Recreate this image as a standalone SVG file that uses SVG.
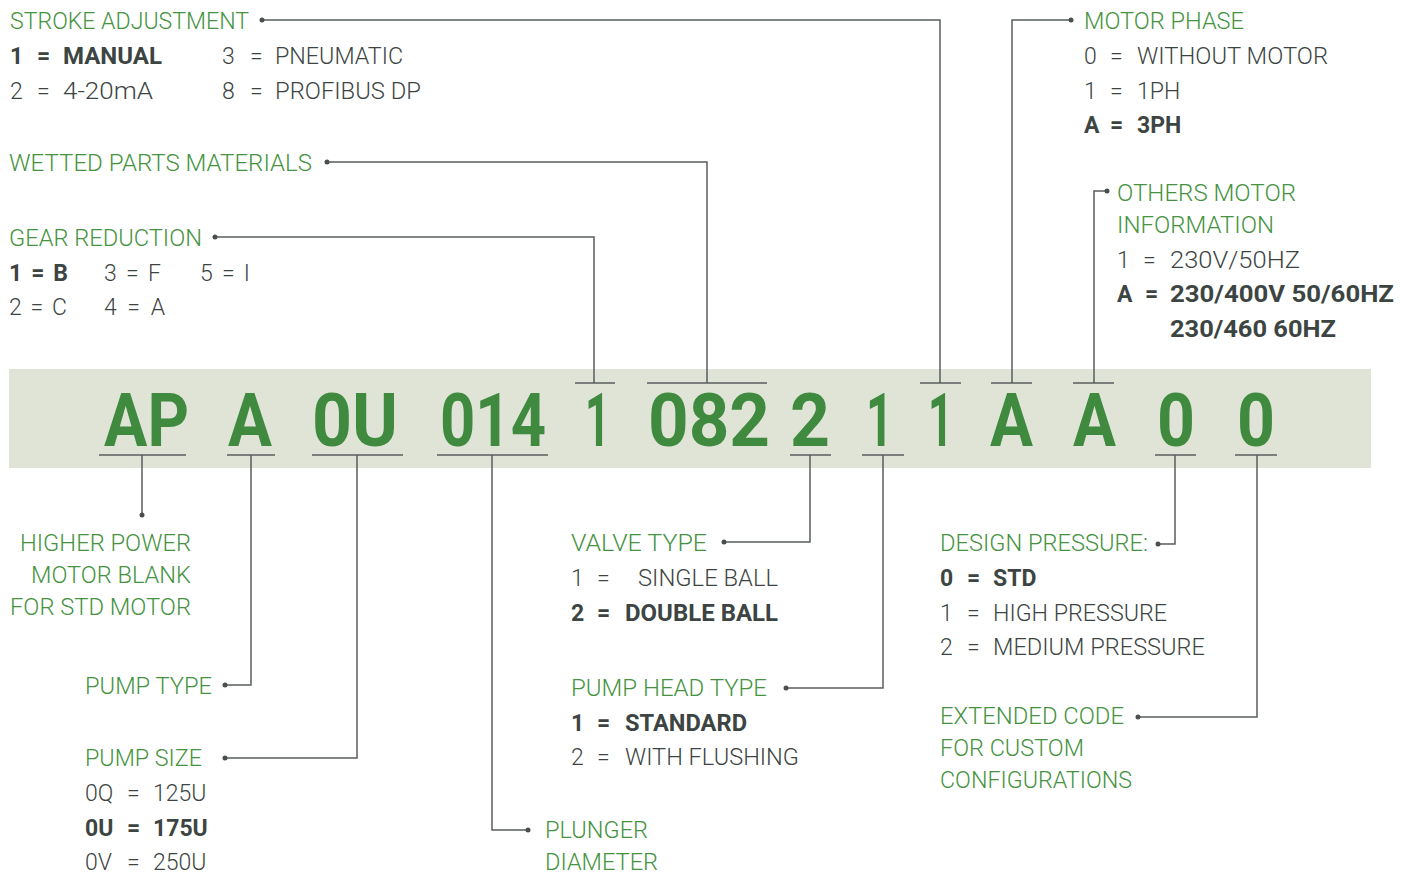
<svg xmlns="http://www.w3.org/2000/svg" width="1415" height="874" viewBox="0 0 1415 874">
<style>
text{font-family:Roboto,"Liberation Sans",sans-serif;font-size:23px;font-weight:300}
.g{fill:#45933f}
.d{fill:#3d4543}
.b{font-weight:700}
.code{fill:#3f8a3f;font-weight:700;font-size:74px}
.ln{stroke:#5a5e5d;stroke-width:1.5;fill:none}
.dot{fill:#4a4f4e}
.r{text-anchor:end}
</style>
<rect x="9" y="369" width="1362" height="99" fill="#dfe4d6"/>
<g id="code">
<text class="code" x="104" y="446" textLength="85" lengthAdjust="spacingAndGlyphs">AP</text>
<text class="code" x="228" y="446" textLength="44" lengthAdjust="spacingAndGlyphs">A</text>
<text class="code" x="312" y="446" textLength="86" lengthAdjust="spacingAndGlyphs">0U</text>
<text class="code" x="440" y="446" textLength="106" lengthAdjust="spacingAndGlyphs">014</text>
<text class="code" x="585" y="446" textLength="25" lengthAdjust="spacingAndGlyphs">1</text>
<text class="code" x="648" y="446" textLength="122" lengthAdjust="spacingAndGlyphs">082</text>
<text class="code" x="790" y="446" textLength="40" lengthAdjust="spacingAndGlyphs">2</text>
<text class="code" x="866" y="446" textLength="27" lengthAdjust="spacingAndGlyphs">1</text>
<text class="code" x="928" y="446" textLength="25" lengthAdjust="spacingAndGlyphs">1</text>
<text class="code" x="990" y="446" textLength="43" lengthAdjust="spacingAndGlyphs">A</text>
<text class="code" x="1073" y="446" textLength="43" lengthAdjust="spacingAndGlyphs">A</text>
<text class="code" x="1157" y="446" textLength="38" lengthAdjust="spacingAndGlyphs">0</text>
<text class="code" x="1237" y="446" textLength="38" lengthAdjust="spacingAndGlyphs">0</text>
</g>
<g id="connectors">
<path class="ln" d="M575 383H615M594 383V237H215"/>
<path class="ln" d="M647 383H767M707 383V162H327"/>
<path class="ln" d="M920 383H961M940 383V20H262"/>
<path class="ln" d="M991 383H1032M1012 383V20H1071"/>
<path class="ln" d="M1073 383H1114M1094 383V191H1107"/>
<path class="ln" d="M99 455H186M142 455V515"/>
<path class="ln" d="M227 455H275M251 455V685H225"/>
<path class="ln" d="M312 455H403M357 455V758H225"/>
<path class="ln" d="M437 455H548M492 455V830H528"/>
<path class="ln" d="M790 455H831M810 455V542H724"/>
<path class="ln" d="M862 455H904M883 455V688H786"/>
<path class="ln" d="M1155 455H1196M1175 455V544H1158"/>
<path class="ln" d="M1235 455H1277M1257 455V717H1138"/>
<g class="dot">
<circle cx="215" cy="237" r="2.5"/><circle cx="327" cy="162" r="2.5"/><circle cx="262" cy="20" r="2.5"/>
<circle cx="1071" cy="20" r="2.5"/><circle cx="1107" cy="191" r="2.5"/><circle cx="142" cy="515" r="2.5"/>
<circle cx="225" cy="685" r="2.5"/><circle cx="225" cy="758" r="2.5"/><circle cx="528" cy="830" r="2.5"/>
<circle cx="724" cy="542" r="2.5"/><circle cx="786" cy="688" r="2.5"/><circle cx="1158" cy="544" r="2.5"/>
<circle cx="1138" cy="717" r="2.5"/>
</g>
</g>
<g id="stroke-adjustment">
<text class="g" x="10" y="29" textLength="239" lengthAdjust="spacingAndGlyphs">STROKE ADJUSTMENT</text>
<text class="d b" x="10" y="64">1</text><text class="d b" x="37" y="64">=</text><text class="d b" x="63" y="64" textLength="99" lengthAdjust="spacingAndGlyphs">MANUAL</text>
<text class="d" x="222" y="64">3</text><text class="d" x="250" y="64">=</text><text class="d" x="275" y="64" textLength="128" lengthAdjust="spacingAndGlyphs">PNEUMATIC</text>
<text class="d" x="10" y="99">2</text><text class="d" x="37" y="99">=</text><text class="d" x="63" y="99" textLength="90" lengthAdjust="spacingAndGlyphs">4-20mA</text>
<text class="d" x="222" y="99">8</text><text class="d" x="250" y="99">=</text><text class="d" x="275" y="99" textLength="146" lengthAdjust="spacingAndGlyphs">PROFIBUS DP</text>
</g>
<g id="wetted-parts">
<text class="g" x="9" y="171" textLength="303" lengthAdjust="spacingAndGlyphs">WETTED PARTS MATERIALS</text>
</g>
<g id="gear-reduction">
<text class="g" x="9" y="246" textLength="193" lengthAdjust="spacingAndGlyphs">GEAR REDUCTION</text>
<text class="d b" x="9" y="281" textLength="59" lengthAdjust="spacing">1 = B</text>
<text class="d" x="104" y="281" textLength="57" lengthAdjust="spacing">3 = F</text>
<text class="d" x="200" y="281" textLength="50" lengthAdjust="spacing">5 = I</text>
<text class="d" x="9" y="315" textLength="58" lengthAdjust="spacing">2 = C</text>
<text class="d" x="104" y="315" textLength="61" lengthAdjust="spacing">4 = A</text>
</g>
<g id="motor-phase">
<text class="g" x="1084" y="29" textLength="160" lengthAdjust="spacingAndGlyphs">MOTOR PHASE</text>
<text class="d" x="1084" y="64">0</text><text class="d" x="1110" y="64">=</text><text class="d" x="1137" y="64" textLength="191" lengthAdjust="spacingAndGlyphs">WITHOUT MOTOR</text>
<text class="d" x="1084" y="99">1</text><text class="d" x="1110" y="99">=</text><text class="d" x="1137" y="99">1PH</text>
<text class="d b" x="1084" y="133">A</text><text class="d b" x="1110" y="133">=</text><text class="d b" x="1137" y="133">3PH</text>
</g>
<g id="others-motor">
<text class="g" x="1117" y="201" textLength="179" lengthAdjust="spacingAndGlyphs">OTHERS MOTOR</text>
<text class="g" x="1117" y="233" textLength="157" lengthAdjust="spacingAndGlyphs">INFORMATION</text>
<text class="d" x="1117" y="268">1</text><text class="d" x="1143" y="268">=</text><text class="d" x="1170" y="268" textLength="130" lengthAdjust="spacingAndGlyphs">230V/50HZ</text>
<text class="d b" x="1117" y="302">A</text><text class="d b" x="1145" y="302">=</text><text class="d b" x="1170" y="302" textLength="224" lengthAdjust="spacingAndGlyphs">230/400V 50/60HZ</text>
<text class="d b" x="1170" y="337" textLength="166" lengthAdjust="spacingAndGlyphs">230/460 60HZ</text>
</g>
<g id="higher-power">
<text class="g" x="20" y="551" textLength="171" lengthAdjust="spacingAndGlyphs">HIGHER POWER</text>
<text class="g" x="31" y="583" textLength="160" lengthAdjust="spacingAndGlyphs">MOTOR BLANK</text>
<text class="g" x="10" y="615" textLength="181" lengthAdjust="spacingAndGlyphs">FOR STD MOTOR</text>
</g>
<g id="pump-type">
<text class="g" x="85" y="694" textLength="127" lengthAdjust="spacingAndGlyphs">PUMP TYPE</text>
</g>
<g id="pump-size">
<text class="g" x="85" y="766" textLength="117" lengthAdjust="spacingAndGlyphs">PUMP SIZE</text>
<text class="d" x="85" y="801">0Q</text><text class="d" x="127" y="801">=</text><text class="d" x="153" y="801">125U</text>
<text class="d b" x="85" y="836">0U</text><text class="d b" x="127" y="836">=</text><text class="d b" x="153" y="836">175U</text>
<text class="d" x="85" y="870">0V</text><text class="d" x="127" y="870">=</text><text class="d" x="153" y="870">250U</text>
</g>
<g id="plunger-diameter">
<text class="g" x="545" y="838" textLength="103" lengthAdjust="spacingAndGlyphs">PLUNGER</text>
<text class="g" x="545" y="870" textLength="113" lengthAdjust="spacingAndGlyphs">DIAMETER</text>
</g>
<g id="valve-type">
<text class="g" x="571" y="551" textLength="136" lengthAdjust="spacingAndGlyphs">VALVE TYPE</text>
<text class="d" x="571" y="586">1</text><text class="d" x="597" y="586">=</text><text class="d" x="638" y="586" textLength="140" lengthAdjust="spacingAndGlyphs">SINGLE BALL</text>
<text class="d b" x="571" y="621">2</text><text class="d b" x="597" y="621">=</text><text class="d b" x="625" y="621" textLength="153" lengthAdjust="spacingAndGlyphs">DOUBLE BALL</text>
</g>
<g id="pump-head-type">
<text class="g" x="571" y="696" textLength="196" lengthAdjust="spacingAndGlyphs">PUMP HEAD TYPE</text>
<text class="d b" x="571" y="731">1</text><text class="d b" x="597" y="731">=</text><text class="d b" x="625" y="731" textLength="122" lengthAdjust="spacingAndGlyphs">STANDARD</text>
<text class="d" x="571" y="765">2</text><text class="d" x="597" y="765">=</text><text class="d" x="625" y="765" textLength="174" lengthAdjust="spacingAndGlyphs">WITH FLUSHING</text>
</g>
<g id="design-pressure">
<text class="g" x="940" y="551" textLength="208" lengthAdjust="spacingAndGlyphs">DESIGN PRESSURE:</text>
<text class="d b" x="940" y="586">0</text><text class="d b" x="967" y="586">=</text><text class="d b" x="993" y="586">STD</text>
<text class="d" x="940" y="621">1</text><text class="d" x="967" y="621">=</text><text class="d" x="993" y="621" textLength="174" lengthAdjust="spacingAndGlyphs">HIGH PRESSURE</text>
<text class="d" x="940" y="655">2</text><text class="d" x="967" y="655">=</text><text class="d" x="993" y="655" textLength="212" lengthAdjust="spacingAndGlyphs">MEDIUM PRESSURE</text>
</g>
<g id="extended-code">
<text class="g" x="940" y="724" textLength="184" lengthAdjust="spacingAndGlyphs">EXTENDED CODE</text>
<text class="g" x="940" y="756" textLength="144" lengthAdjust="spacingAndGlyphs">FOR CUSTOM</text>
<text class="g" x="940" y="788" textLength="192" lengthAdjust="spacingAndGlyphs">CONFIGURATIONS</text>
</g>
</svg>
